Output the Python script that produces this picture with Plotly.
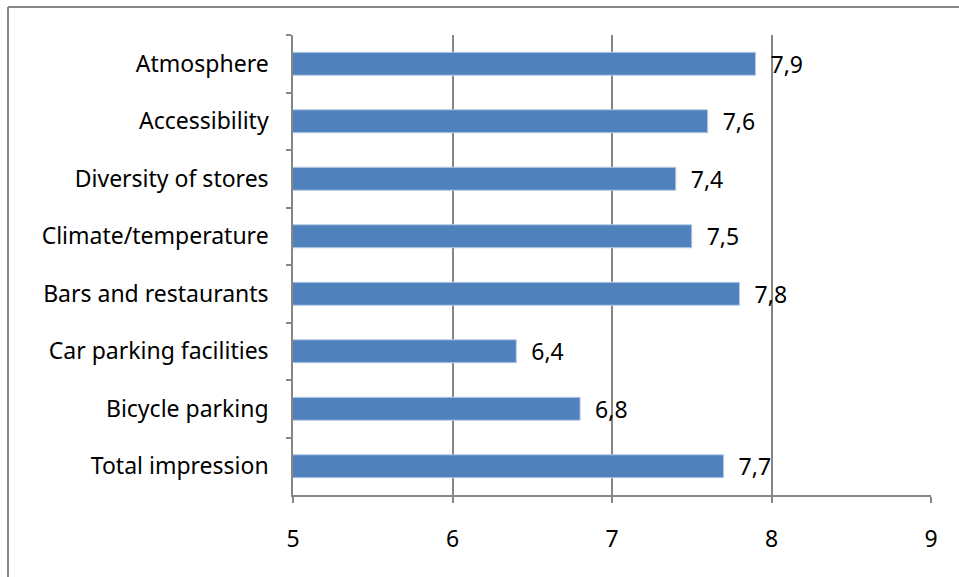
import plotly.graph_objects as go

categories = ["Atmosphere", "Accessibility", "Diversity of stores", "Climate/temperature",
              "Bars and restaurants", "Car parking facilities", "Bicycle parking", "Total impression"]
values = [7.9, 7.6, 7.4, 7.5, 7.8, 6.4, 6.8, 7.7]
x_ticks = [5, 6, 7, 8, 9]

labels = ["\u00a0\u00a0" + f"{v:.1f}".replace(".", ",") for v in values]

FONT = "Noto Sans"
GRAY = "#868686"

fig = go.Figure(go.Bar(
    y=categories, x=values, orientation="h",
    marker=dict(color="#4F81BD", line=dict(color="#B9CDE5", width=1)),
    width=0.4,
    text=labels, textposition="outside", constraintext="none",
    textfont=dict(family=FONT, size=23, color="black"),
    cliponaxis=False,
))

fig.update_layout(
    width=959, height=577,
    margin=dict(l=293, r=28, t=35, b=82),
    paper_bgcolor="white", plot_bgcolor="white",
    showlegend=False,
    font=dict(family=FONT, size=23, color="black"),
    xaxis=dict(
        range=[x_ticks[0], x_ticks[-1]], tickvals=x_ticks,
        showgrid=True, gridcolor=GRAY, gridwidth=1.5,
        showline=True, linecolor=GRAY, linewidth=1.5,
        ticks="outside", ticklen=6, tickcolor=GRAY, tickwidth=1.5,
        ticklabelstandoff=17, zeroline=False,
    ),
    yaxis=dict(
        type="category", autorange="reversed", tickson="boundaries",
        showgrid=False, showline=True, linecolor=GRAY, linewidth=1.5,
        ticks="outside", ticklen=5, tickcolor=GRAY, tickwidth=1.5,
        ticklabelstandoff=18,
    ),
    shapes=[
        dict(type="line", xref="paper", yref="paper", x0=-0.4467, x1=-0.4467, y0=1.061, y1=-0.3,
             line=dict(color=GRAY, width=2)),
        dict(type="line", xref="paper", yref="paper", x0=-0.4467, x1=1.2, y0=1.061, y1=1.061,
             line=dict(color=GRAY, width=2)),
    ],
)

fig.write_html("out.html")
